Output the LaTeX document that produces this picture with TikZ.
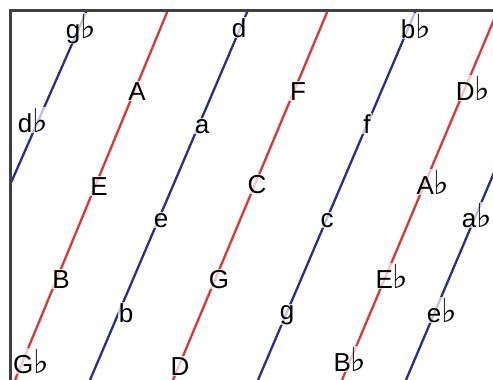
\documentclass[tikz,border=0pt]{standalone}
\usepackage{fontspec}
\setmainfont{Liberation Sans}
\newfontfamily\dejavu{DejaVu Sans}
\usepackage{tikz}
\definecolor{linered}{HTML}{DC3636}
\definecolor{lineblue}{HTML}{2B2F8C}
\definecolor{framegray}{HTML}{404040}
\newcommand{\fl}{{\dejavu\fontsize{33}{33}\selectfont ♭}}

\begin{document}
\begin{tikzpicture}[x=1pt,y=-1pt,
  redline/.style={linered,line width=2.3pt},
  blueline/.style={lineblue,line width=2.3pt},
  note/.style={anchor=base,fill=white,fill opacity=0.7,text opacity=1,inner sep=1pt,font=\fontsize{26}{30}\selectfont}]
  \useasboundingbox (0,0) rectangle (493,380);
  % ends of the lines, on the frame
  \coordinate (b1bot) at (10,185);   \coordinate (b1top) at (87,10);
  \coordinate (r1bot) at (15,380);   \coordinate (r1top) at (168,10);
  \coordinate (b2bot) at (90,380);   \coordinate (b2top) at (248,10);
  \coordinate (r2bot) at (173,380);  \coordinate (r2top) at (328,10);
  \coordinate (b3bot) at (258,380);  \coordinate (b3top) at (416,10);
  \coordinate (r3bot) at (342,380);  \coordinate (r3top) at (498,10);
  \coordinate (b4bot) at (406,380);  \coordinate (b4top) at (563,10);
  \begin{scope}
    \clip (10,10) rectangle (493,380);
    \draw[blueline] (b1bot) -- (b1top);
    \draw[redline] (r1bot) -- (r1top);
    \draw[blueline] (b2bot) -- (b2top);
    \draw[redline] (r2bot) -- (r2top);
    \draw[blueline] (b3bot) -- (b3top);
    \draw[redline] (r3bot) -- (r3top);
    \draw[blueline] (b4bot) -- (b4top);
  \end{scope}
  \draw[framegray,line width=2.2pt] (10.5,380) -- (10.5,10.5) -- (493,10.5);
  % notes
  \node[note] (Gflat) at (31,373) {G\fl};
  \node[note] (B) at (61,288) {B};
  \node[note] (E) at (99,195) {E};
  \node[note] (A) at (137,100) {A};
  \node[note] (dflat) at (33,132) {d\fl};
  \node[note] (gflat) at (81,38) {g\fl};
  \node[note] (b) at (126,322) {b};
  \node[note] (e) at (161,227) {e};
  \node[note] (a) at (202,133) {a};
  \node[note] (d) at (239,37) {d};
  \node[note] (D) at (180,375) {D};
  \node[note] (G) at (219,288) {G};
  \node[note] (C) at (257,193) {C};
  \node[note] (F) at (298,100) {F};
  \node[note] (g) at (287,319) {g};
  \node[note] (c) at (327,227) {c};
  \node[note] (f) at (367,133) {f};
  \node[note] (bflat) at (416,38) {b\fl};
  \node[note] (Bflat) at (350,371) {B\fl};
  \node[note] (Eflat) at (392,288) {E\fl};
  \node[note] (Aflat) at (433,194) {A\fl};
  \node[note] (Dflat) at (473,100) {D\fl};
  \node[note] (eflat) at (442,322) {e\fl};
  \node[note] (aflat) at (477,227) {a\fl};
\end{tikzpicture}
\end{document}
